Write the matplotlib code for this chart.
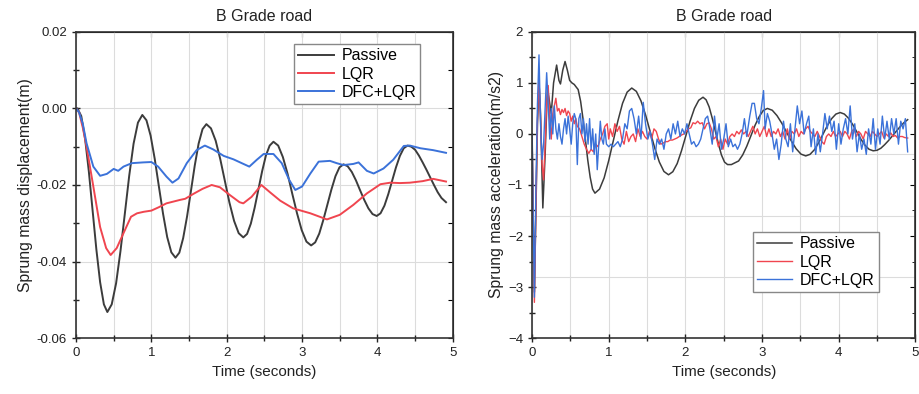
import numpy as np
import matplotlib
matplotlib.use("Agg")
import matplotlib.pyplot as plt
from matplotlib.ticker import MultipleLocator

plt.rcParams['font.family'] = ['Liberation Sans', 'DejaVu Sans']

title_txt = "B Grade road"
xlabel_txt = "Time (seconds)"
ylabel_disp = "Sprung mass displacement(m)"
ylabel_acc = "Sprung mass acceleration(m/s2)"
labels = ["Passive", "LQR", "DFC+LQR"]

# ---- displacement (left) ----
t_pas_d = [0.0, 0.02, 0.07, 0.12, 0.17, 0.22, 0.27, 0.32, 0.37, 0.416,
           0.474, 0.532, 0.590, 0.648, 0.706, 0.764, 0.822, 0.88,
           0.935, 0.99, 1.045, 1.10, 1.155, 1.21, 1.265, 1.32,
           1.371, 1.422, 1.474, 1.525, 1.576, 1.627, 1.679, 1.73,
           1.791, 1.853, 1.914, 1.975, 2.036, 2.098, 2.159, 2.22,
           2.27, 2.32, 2.37, 2.42, 2.47, 2.52, 2.57, 2.62,
           2.683, 2.745, 2.808, 2.87, 2.933, 2.995, 3.058, 3.12,
           3.174, 3.228, 3.281, 3.335, 3.389, 3.443, 3.496, 3.55,
           3.605, 3.66, 3.715, 3.77, 3.825, 3.88, 3.935, 3.99,
           4.041, 4.093, 4.144, 4.195, 4.246, 4.298, 4.349, 4.40,
           4.45, 4.50, 4.55, 4.60, 4.65, 4.70, 4.75, 4.80, 4.85, 4.91]
v_pas_d = [0.0, 0.0, -0.0020, -0.0078, -0.0164, -0.0266, -0.0368, -0.0454, -0.0512, -0.0532,
           -0.0512, -0.0457, -0.0373, -0.0275, -0.0176, -0.0092, -0.0037, -0.0017,
           -0.0031, -0.0071, -0.0132, -0.0204, -0.0275, -0.0336, -0.0376, -0.0390,
           -0.0377, -0.0339, -0.0282, -0.0216, -0.0149, -0.0092, -0.0054, -0.0041,
           -0.0052, -0.0084, -0.0132, -0.0189, -0.0246, -0.0294, -0.0326, -0.0337,
           -0.0328, -0.0301, -0.0260, -0.0212, -0.0164, -0.0123, -0.0097, -0.0087,
           -0.0097, -0.0127, -0.0171, -0.0223, -0.0274, -0.0318, -0.0348, -0.0358,
           -0.0350, -0.0327, -0.0292, -0.0252, -0.0212, -0.0177, -0.0154, -0.0146,
           -0.0151, -0.0166, -0.0188, -0.0214, -0.0239, -0.0261, -0.0276, -0.0281,
           -0.0274, -0.0254, -0.0224, -0.0189, -0.0154, -0.0124, -0.0104, -0.0097,
           -0.0100, -0.0108, -0.0123, -0.0141, -0.0160, -0.0180, -0.0200, -0.0219, -0.0234, -0.0245]

t_lqr_d = [0.0, 0.04, 0.09, 0.14, 0.23, 0.32, 0.40, 0.46, 0.54, 0.63, 0.73, 0.81, 0.90, 1.0,
           1.1, 1.2, 1.3, 1.38, 1.45, 1.56, 1.68, 1.80, 1.91, 2.04, 2.17, 2.22, 2.33,
           2.46, 2.58, 2.71, 2.88, 3.11, 3.33, 3.50, 3.68, 3.86, 4.04, 4.17, 4.30,
           4.43, 4.60, 4.74, 4.91]
v_lqr_d = [0.0, -0.001, -0.005, -0.010, -0.0204, -0.031, -0.0365, -0.0383, -0.0365, -0.0326,
           -0.0283, -0.0274, -0.0270, -0.0267, -0.0258, -0.0248, -0.0243, -0.0239, -0.0236,
           -0.0223, -0.0210, -0.0200, -0.0206, -0.0226, -0.0245, -0.0248, -0.0231,
           -0.0200, -0.0220, -0.0241, -0.0261, -0.0274, -0.0290, -0.0278, -0.0252,
           -0.0222, -0.0198, -0.0194, -0.0195, -0.0194, -0.0190, -0.0184, -0.0191]

t_dfc_d = [0.0, 0.04, 0.09, 0.14, 0.23, 0.32, 0.41, 0.50, 0.56, 0.63, 0.74, 0.89, 1.00,
           1.09, 1.20, 1.28, 1.36, 1.47, 1.60, 1.71, 1.82, 1.96, 2.09, 2.20, 2.30,
           2.40, 2.49, 2.62, 2.73, 2.83, 2.91, 3.00, 3.11, 3.22, 3.37, 3.46, 3.55,
           3.68, 3.75, 3.86, 3.95, 4.08, 4.21, 4.35, 4.43, 4.57, 4.74, 4.91]
v_dfc_d = [0.0, -0.001, -0.004, -0.0091, -0.0152, -0.0176, -0.0171, -0.0158, -0.0163,
           -0.0152, -0.0143, -0.0141, -0.0140, -0.0152, -0.0178, -0.0194, -0.0183,
           -0.0143, -0.0109, -0.0097, -0.0107, -0.0124, -0.0133, -0.0143, -0.0152,
           -0.0134, -0.0119, -0.0119, -0.0143, -0.0187, -0.0213, -0.0204, -0.0170,
           -0.0139, -0.0137, -0.0143, -0.0148, -0.0145, -0.0141, -0.0163, -0.0170,
           -0.0157, -0.0134, -0.0098, -0.0097, -0.0104, -0.0109, -0.0116]

# ---- acceleration (right) ----
t_pas_a = [0.0, 0.015, 0.03, 0.05, 0.07, 0.09, 0.11, 0.14, 0.17, 0.20, 0.22, 0.25, 0.28,
           0.32, 0.35, 0.37, 0.40, 0.43, 0.46, 0.49, 0.52, 0.55, 0.57,
           0.601, 0.633, 0.664, 0.695, 0.726, 0.758, 0.789, 0.82,
           0.88, 0.94, 1.00, 1.06, 1.12, 1.18, 1.24, 1.30,
           1.36, 1.42, 1.48, 1.54, 1.60, 1.66, 1.72, 1.78,
           1.836, 1.893, 1.949, 2.005, 2.061, 2.118, 2.174, 2.23,
           2.27, 2.31, 2.35, 2.39, 2.43, 2.47, 2.51, 2.55, 2.60, 2.64,
           2.694, 2.748, 2.801, 2.855, 2.909, 2.963, 3.016, 3.07,
           3.133, 3.195, 3.258, 3.32, 3.383, 3.445, 3.508, 3.57,
           3.626, 3.683, 3.739, 3.795, 3.851, 3.908, 3.964, 4.02,
           4.074, 4.127, 4.181, 4.235, 4.289, 4.343, 4.396, 4.45,
           4.50, 4.55, 4.60, 4.65, 4.70, 4.75, 4.80, 4.85, 4.90]
v_pas_a = [0.0, -1.6, -3.1, -1.5, 0.2, 1.0, 0.4, -1.45, -0.4, 0.9, 0.7, 0.4, 1.0,
           1.35, 1.05, 0.98, 1.25, 1.42, 1.25, 1.05, 1.0, 0.97, 0.93,
           0.87, 0.64, 0.30, -0.105, -0.51, -0.85, -1.08, -1.16,
           -1.08, -0.86, -0.52, -0.13, 0.26, 0.60, 0.82, 0.90,
           0.835, 0.65, 0.375, 0.05, -0.275, -0.55, -0.735, -0.80,
           -0.74, -0.58, -0.33, -0.04, 0.25, 0.50, 0.66, 0.72,
           0.67, 0.53, 0.31, 0.06, -0.19, -0.41, -0.55, -0.60, -0.60, -0.57,
           -0.53, -0.41, -0.24, -0.035, 0.17, 0.34, 0.46, 0.50,
           0.465, 0.36, 0.21, 0.035, -0.14, -0.29, -0.395, -0.43,
           -0.40, -0.31, -0.17, -0.005, 0.16, 0.30, 0.39, 0.42,
           0.39, 0.31, 0.19, 0.045, -0.10, -0.22, -0.30, -0.33,
           -0.32, -0.28, -0.21, -0.13, -0.04, 0.05, 0.14, 0.22, 0.28]

t_lqr_a = [0.0, 0.015, 0.03, 0.05, 0.07, 0.09, 0.11, 0.13, 0.15, 0.17, 0.19, 0.21, 0.23,
           0.25, 0.27, 0.29, 0.31, 0.33, 0.35, 0.37, 0.39, 0.41, 0.43, 0.45, 0.47,
           0.49, 0.51, 0.53, 0.55, 0.57, 0.59, 0.62, 0.65, 0.68, 0.71, 0.74, 0.77,
           0.80, 0.83, 0.86, 0.89, 0.92, 0.95, 0.98, 1.00, 1.02, 1.05, 1.08, 1.11,
           1.14, 1.17, 1.20, 1.23, 1.26, 1.29, 1.32, 1.35, 1.38, 1.41, 1.44, 1.47,
           1.50, 1.53, 1.56, 1.59, 1.62, 1.65, 1.68, 1.71, 1.74, 1.77, 1.80, 1.83,
           1.86, 1.89, 1.92, 1.95, 1.98, 2.01, 2.04, 2.07, 2.10, 2.13, 2.16, 2.19,
           2.22, 2.25, 2.28, 2.31, 2.34, 2.37, 2.40, 2.43, 2.46, 2.49, 2.52, 2.55,
           2.58, 2.61, 2.64, 2.67, 2.70, 2.73, 2.76, 2.79, 2.82, 2.85, 2.88, 2.91,
           2.94, 2.97, 3.00, 3.03, 3.06, 3.09, 3.12, 3.15, 3.18, 3.21, 3.24, 3.27,
           3.30, 3.33, 3.36, 3.39, 3.42, 3.45, 3.48, 3.51, 3.54, 3.57, 3.60, 3.63,
           3.66, 3.69, 3.72, 3.75, 3.78, 3.81, 3.84, 3.87, 3.90, 3.93, 3.96, 3.99,
           4.02, 4.05, 4.08, 4.11, 4.14, 4.17, 4.20, 4.23, 4.26, 4.29, 4.32, 4.35,
           4.38, 4.41, 4.44, 4.47, 4.50, 4.53, 4.56, 4.59, 4.62, 4.65, 4.68, 4.71,
           4.74, 4.77, 4.80, 4.83, 4.86, 4.90]
v_lqr_a = [0.0, -1.8, -3.3, -1.4, 0.3, 1.05, 0.3, -0.6, -0.9, -0.2, 0.6, 0.95, 0.3,
           -0.1, 0.4, 0.55, 0.7, 0.45, 0.5, 0.38, 0.48, 0.42, 0.5, 0.36, 0.45,
           0.40, 0.25, 0.35, 0.2, 0.3, 0.15, 0.1, -0.05, -0.2, -0.3, -0.38, -0.3,
           -0.35, -0.2, -0.25, -0.1, 0.0, 0.15, 0.2, -0.1, 0.1, -0.05, 0.2, 0.05,
           0.15, -0.1, -0.2, 0.05, -0.15, -0.05, 0.0, -0.15, 0.1, -0.05, 0.05, -0.05,
           -0.1, 0.05, -0.1, 0.1, 0.05, -0.1, -0.2, -0.18, -0.15, -0.15, -0.12, -0.12,
           -0.1, -0.08, -0.05, -0.02, 0.0, 0.05, 0.1, 0.12, 0.22, 0.2, 0.25, 0.2,
           0.22, 0.1, 0.2, 0.22, 0.1, -0.1, -0.05, -0.25, -0.1, -0.3, -0.1, -0.2,
           -0.05, 0.0, -0.05, 0.05, 0.0, 0.08, 0.0, 0.05, -0.05, 0.05, 0.15, 0.0,
           0.1, -0.05, 0.05, 0.15, -0.05, 0.1, -0.05, 0.05, 0.0, 0.1, -0.05, 0.05,
           -0.1, 0.1, -0.1, 0.05, 0.0, 0.1, -0.05, 0.05, 0.0, 0.1, 0.15, 0.05,
           0.0, -0.05, 0.05, -0.05, -0.15, -0.2, -0.05, 0.0, -0.05, 0.05, -0.05, 0.0,
           0.05, -0.05, 0.05, 0.0, -0.1, 0.05, 0.1, -0.05, 0.05, 0.0, -0.1, 0.05,
           0.0, -0.05, 0.05, 0.0, -0.05, 0.0, 0.05, -0.08, 0.0, -0.05, 0.02, -0.05,
           -0.03, -0.08, -0.05, -0.05, -0.07, -0.08]

t_dfc_a = [0.0, 0.015, 0.03, 0.05, 0.07, 0.09, 0.11, 0.13, 0.15, 0.17, 0.19, 0.21, 0.23,
           0.25, 0.27, 0.29, 0.31, 0.33, 0.35, 0.37, 0.39, 0.41, 0.43, 0.45, 0.47,
           0.49, 0.51, 0.53, 0.55, 0.57, 0.59, 0.61, 0.63, 0.65, 0.67, 0.69, 0.71,
           0.73, 0.75, 0.77, 0.79, 0.81, 0.83, 0.85, 0.87, 0.89, 0.91, 0.93, 0.95,
           0.97, 1.00, 1.03, 1.06, 1.09, 1.12, 1.15, 1.18, 1.21, 1.24, 1.27, 1.30,
           1.33, 1.36, 1.39, 1.42, 1.45, 1.48, 1.51, 1.54, 1.57, 1.60, 1.63, 1.66,
           1.69, 1.72, 1.75, 1.78, 1.81, 1.84, 1.87, 1.90, 1.93, 1.96, 1.99, 2.02,
           2.05, 2.08, 2.11, 2.14, 2.17, 2.20, 2.23, 2.26, 2.29, 2.32, 2.35, 2.38,
           2.41, 2.44, 2.47, 2.50, 2.53, 2.56, 2.59, 2.62, 2.65, 2.68, 2.71, 2.74,
           2.77, 2.80, 2.84, 2.87, 2.90, 2.93, 2.96, 2.99, 3.02, 3.04, 3.07, 3.10,
           3.13, 3.16, 3.19, 3.22, 3.25, 3.28, 3.31, 3.34, 3.37, 3.40, 3.43, 3.46,
           3.49, 3.52, 3.55, 3.58, 3.61, 3.64, 3.67, 3.70, 3.73, 3.76, 3.79, 3.82,
           3.85, 3.88, 3.91, 3.94, 3.97, 4.00, 4.03, 4.06, 4.09, 4.12, 4.15, 4.18,
           4.21, 4.24, 4.27, 4.30, 4.33, 4.36, 4.39, 4.42, 4.45, 4.48, 4.51, 4.54,
           4.57, 4.60, 4.63, 4.66, 4.69, 4.72, 4.75, 4.78, 4.81, 4.84, 4.87, 4.90]
v_dfc_a = [0.0, -1.7, -3.2, -1.0, 0.6, 1.55, 0.2, -0.5, -0.2, 0.5, 1.2, 0.6, -0.1,
           0.5, 0.0, 0.55, 0.1, -0.1, 0.2, -0.05, -0.2, 0.1, 0.3, 0.0, 0.35,
           0.1, -0.2, 0.2, 0.4, 0.3, -0.6, 0.3, 0.4, 0.0, 0.3, -0.15, 0.2,
           -0.2, 0.3, -0.3, 0.1, -0.4, 0.0, -0.7, -0.2, 0.25, -0.1, -0.2, 0.1,
           -0.2, -0.25, -0.2, -0.25, -0.2, -0.15, -0.25, -0.1, 0.2, 0.1, 0.45, 0.5,
           0.3, 0.0, 0.35, -0.1, 0.62, 0.2, -0.1, 0.05, -0.2, -0.5, -0.1, -0.2,
           -0.1, -0.3, 0.0, 0.1, -0.1, 0.2, 0.0, 0.25, -0.05, 0.1, 0.0, 0.2,
           0.0, -0.2, -0.15, -0.25, -0.2, -0.1, 0.1, 0.3, 0.35, 0.1, -0.2, 0.35,
           -0.1, 0.2, -0.3, -0.1, 0.2, -0.25, -0.1, -0.25, -0.2, -0.3, -0.2, 0.0,
           0.3, -0.05, 0.35, 0.6, 0.6, 0.3, 0.2, 0.5, 0.85, 0.1, 0.4, 0.25,
           0.0, -0.3, -0.1, -0.5, -0.2, 0.25, -0.1, -0.25, 0.2, -0.35, 0.1, 0.55,
           0.2, 0.45, 0.0, 0.2, 0.35, -0.25, 0.1, -0.4, 0.0, -0.35, 0.0, 0.4,
           0.1, 0.35, 0.05, 0.25, -0.3, 0.2, -0.2, 0.1, 0.3, 0.0, 0.55, -0.1,
           0.2, -0.35, 0.0, -0.3, -0.1, -0.4, 0.1, -0.2, 0.3, -0.3, 0.1, -0.2,
           0.35, -0.1, 0.25, -0.1, 0.3, 0.0, 0.3, -0.2, 0.25, 0.1, 0.3, -0.35]

c_pas = '#3c3c3c'
c_lqr = '#f0454f'
c_dfc = '#3b72d9'
grid_c = '#dcdcdc'
txt_c = '#222222'

fig = plt.figure(figsize=(9.19, 3.94), dpi=100)
ax1 = fig.add_axes([0.0827, 0.142, 0.410, 0.777])
ax2 = fig.add_axes([0.579, 0.142, 0.417, 0.777])


def style_axes(ax, xminor, ymajor, yminor):
    ax.set_xlim(0, 5)
    ax.xaxis.set_major_locator(MultipleLocator(1))
    ax.xaxis.set_minor_locator(MultipleLocator(xminor))
    ax.yaxis.set_major_locator(MultipleLocator(ymajor))
    ax.yaxis.set_minor_locator(MultipleLocator(yminor))
    ax.tick_params(which='both', direction='inout', top=False, right=False,
                   labelsize=9.5, colors=txt_c, width=1.0)
    ax.tick_params(which='major', length=6)
    ax.tick_params(which='minor', length=4)
    ax.secondary_xaxis('top').tick_params(which='both', direction='in', labeltop=False)
    for sp in ax.spines.values():
        sp.set_linewidth(1.2)
        sp.set_color('#333333')
    ax.grid(True, axis='x', which='both', color=grid_c, lw=0.8)
    ax.set_axisbelow(True)


leg_kw = dict(fontsize=11.5, fancybox=False, edgecolor='#888888', framealpha=1,
              handlelength=2.2, borderpad=0.25, labelspacing=0.2, handletextpad=0.5)

# left panel
style_axes(ax1, 0.5, 0.02, 0.01)
ax1.set_ylim(-0.06, 0.02)
for yg in [0.0, -0.02, -0.04]:
    ax1.axhline(yg, color=grid_c, lw=0.8, zorder=0)
ax1.yaxis.set_major_formatter(matplotlib.ticker.FormatStrFormatter('%.2f'))
ax1.plot(t_pas_d, v_pas_d, color=c_pas, lw=1.4, label=labels[0])
ax1.plot(t_lqr_d, v_lqr_d, color=c_lqr, lw=1.4, label=labels[1])
ax1.plot(t_dfc_d, v_dfc_d, color=c_dfc, lw=1.4, label=labels[2])
ax1.set_title(title_txt, fontsize=11.5, pad=8, color=txt_c)
ax1.set_xlabel(xlabel_txt, fontsize=11, color=txt_c, labelpad=4)
ax1.set_ylabel(ylabel_disp, fontsize=11.3, color=txt_c, labelpad=3)
ax1.legend(loc='upper right', bbox_to_anchor=(0.935, 0.985), **leg_kw)

# right panel
style_axes(ax2, 0.5, 1, 0.5)
ax2.set_ylim(-4, 2)
for yg in [0.8, -0.4, -1.6, -2.8]:
    ax2.axhline(yg, color=grid_c, lw=0.8, zorder=0)
ax2.plot(t_pas_a, v_pas_a, color=c_pas, lw=1.1, label=labels[0])
ax2.plot(t_lqr_a, v_lqr_a, color=c_lqr, lw=1.0, label=labels[1])
ax2.plot(t_dfc_a, v_dfc_a, color=c_dfc, lw=1.0, label=labels[2])
ax2.set_title(title_txt, fontsize=11.5, pad=8, color=txt_c)
ax2.set_xlabel(xlabel_txt, fontsize=11, color=txt_c, labelpad=4)
ax2.set_ylabel(ylabel_acc, fontsize=11.3, color=txt_c, labelpad=3)
ax2.legend(loc='lower right', bbox_to_anchor=(0.926, 0.125), **leg_kw)

for ax in (ax1, ax2):
    sec = ax.secondary_yaxis('right')
    sec.tick_params(which='both', direction='in', labelright=False)
    sec.yaxis.set_minor_locator(ax.yaxis.get_minor_locator())

fig.savefig('out.png', dpi=100)
